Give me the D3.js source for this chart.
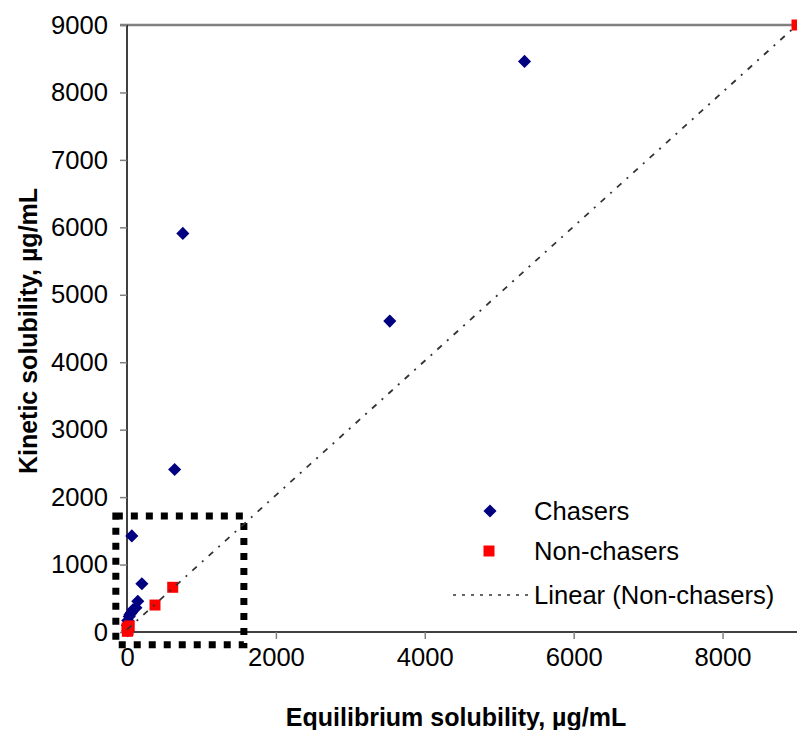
<!DOCTYPE html>
<html>
<head>
<meta charset="utf-8">
<script src="https://cdn.jsdelivr.net/npm/d3@7"></script>
<style>
  body { margin: 0; background: #fff; }
  text { font-family: Arial, "Liberation Sans", sans-serif; }
</style>
</head>
<body>
<svg id="chart" width="797" height="730"></svg>
<script>
// values (equilibrium, kinetic) in µg/mL
const chasers = [
  [5340, 8460], [750, 5910], [3530, 4610], [640, 2410], [65, 1425],
  [200, 715], [145, 455], [120, 360], [80, 330], [60, 290], [40, 260],
  [30, 230], [10, 170], [5, 100], [10, 20]
]
const nonChasers = [
  [9000, 9000], [614, 663], [376, 400], [30, 90], [0, 60], [15, 30], [5, 10]
]
const xTicks = [0, 2000, 4000, 6000, 8000]
const yTicks = [0, 1000, 2000, 3000, 4000, 5000, 6000, 7000, 8000, 9000]
const legendLabels = ['Chasers', 'Non-chasers', 'Linear (Non-chasers)']
// the dotted zoom box drawn on the chart, in data units
const zoomBox = { x0: -150, x1: 1570, y0: -190, y1: 1720 }

const svg = d3.select('#chart')
const x = d3.scaleLinear().domain([0, 9000]).range([127, 797])
const y = d3.scaleLinear().domain([0, 9000]).range([632, 25])
const fontSize = 25.6

// top border of plot area
svg.append('line')
  .attr('x1', 120).attr('x2', 797)
  .attr('y1', y(9000)).attr('y2', y(9000))
  .attr('stroke', '#808080').attr('stroke-width', 2.5)

// axes
const yAxis = svg.append('g')
  .attr('transform', 'translate(' + x(0) + ',0)')
  .call(d3.axisLeft(y).tickValues(yTicks).tickSize(7).tickPadding(12).tickFormat(d3.format('d')))
const xAxis = svg.append('g')
  .attr('transform', 'translate(0,' + y(0) + ')')
  .call(d3.axisBottom(x).tickValues(xTicks).tickSize(7).tickPadding(9).tickFormat(d3.format('d')))

for (const ax of [xAxis, yAxis]) {
  ax.select('.domain').attr('stroke', '#000').attr('stroke-width', 1.5)
  ax.selectAll('.tick line').attr('stroke', '#808080').attr('stroke-width', 1.5)
  ax.selectAll('.tick text').attr('font-size', fontSize).attr('fill', '#000')
    .style('font-family', 'Arial, "Liberation Sans", sans-serif')
}
yAxis.select('.domain').attr('d', 'M0,' + y(0) + 'V' + y(9000))
xAxis.select('.domain').attr('d', 'M' + x(0) + ',0H797')
xAxis.selectAll('.tick').filter(d => d === 0).select('line').remove()

// axis titles
svg.append('text')
  .attr('x', 456).attr('y', 726)
  .attr('text-anchor', 'middle')
  .attr('font-size', 25).attr('font-weight', 'bold')
  .text('Equilibrium solubility, µg/mL')
svg.append('text')
  .attr('transform', 'translate(37,331) rotate(-90)')
  .attr('text-anchor', 'middle')
  .attr('font-size', 25).attr('font-weight', 'bold')
  .text('Kinetic solubility, µg/mL')

// dotted box
svg.append('rect')
  .attr('x', x(zoomBox.x0)).attr('y', y(zoomBox.y1))
  .attr('width', x(zoomBox.x1) - x(zoomBox.x0))
  .attr('height', y(zoomBox.y0) - y(zoomBox.y1))
  .attr('fill', 'none').attr('stroke', '#000')
  .attr('stroke-width', 7).attr('stroke-dasharray', '7,8')

const diamond = d3.symbol().type(d3.symbolSquare).size(86)
const square = d3.symbol().type(d3.symbolSquare).size(121)

svg.append('g').selectAll('path')
  .data(chasers)
  .join('path')
  .attr('d', diamond)
  .attr('transform', d => 'translate(' + x(d[0]) + ',' + y(d[1]) + ') rotate(45)')
  .attr('fill', '#000080')

svg.append('g').selectAll('path')
  .data(nonChasers)
  .join('path')
  .attr('d', square)
  .attr('transform', d => 'translate(' + x(d[0]) + ',' + y(d[1]) + ')')
  .attr('fill', '#ff0000')

// linear trendline of non-chasers (least squares)
const mx = d3.mean(nonChasers, d => d[0])
const my = d3.mean(nonChasers, d => d[1])
const slope = d3.sum(nonChasers, d => (d[0] - mx) * (d[1] - my)) /
  d3.sum(nonChasers, d => (d[0] - mx) * (d[0] - mx))
const intercept = my - slope * mx
const [xmin, xmax] = d3.extent(nonChasers, d => d[0])

svg.append('line')
  .attr('x1', x(xmin)).attr('y1', y(intercept + slope * xmin))
  .attr('x2', x(xmax)).attr('y2', y(intercept + slope * xmax))
  .attr('stroke', '#333').attr('stroke-width', 1.8)
  .attr('stroke-dasharray', '6,7,2,7')

// legend
const legend = svg.append('g')
const rows = [511, 551, 595]
legend.append('path')
  .attr('d', diamond)
  .attr('transform', 'translate(490,' + rows[0] + ') rotate(45)')
  .attr('fill', '#000080')
legend.append('path')
  .attr('d', square)
  .attr('transform', 'translate(489,' + rows[1] + ')')
  .attr('fill', '#ff0000')
legend.append('line')
  .attr('x1', 453).attr('x2', 528)
  .attr('y1', rows[2]).attr('y2', rows[2])
  .attr('stroke', '#333').attr('stroke-width', 1.6)
  .attr('stroke-dasharray', '3,6')
legend.selectAll('text')
  .data(legendLabels)
  .join('text')
  .attr('x', 534)
  .attr('y', (d, i) => rows[i])
  .attr('dy', '0.35em')
  .attr('font-size', fontSize)
  .text(d => d)
</script>
</body>
</html>
